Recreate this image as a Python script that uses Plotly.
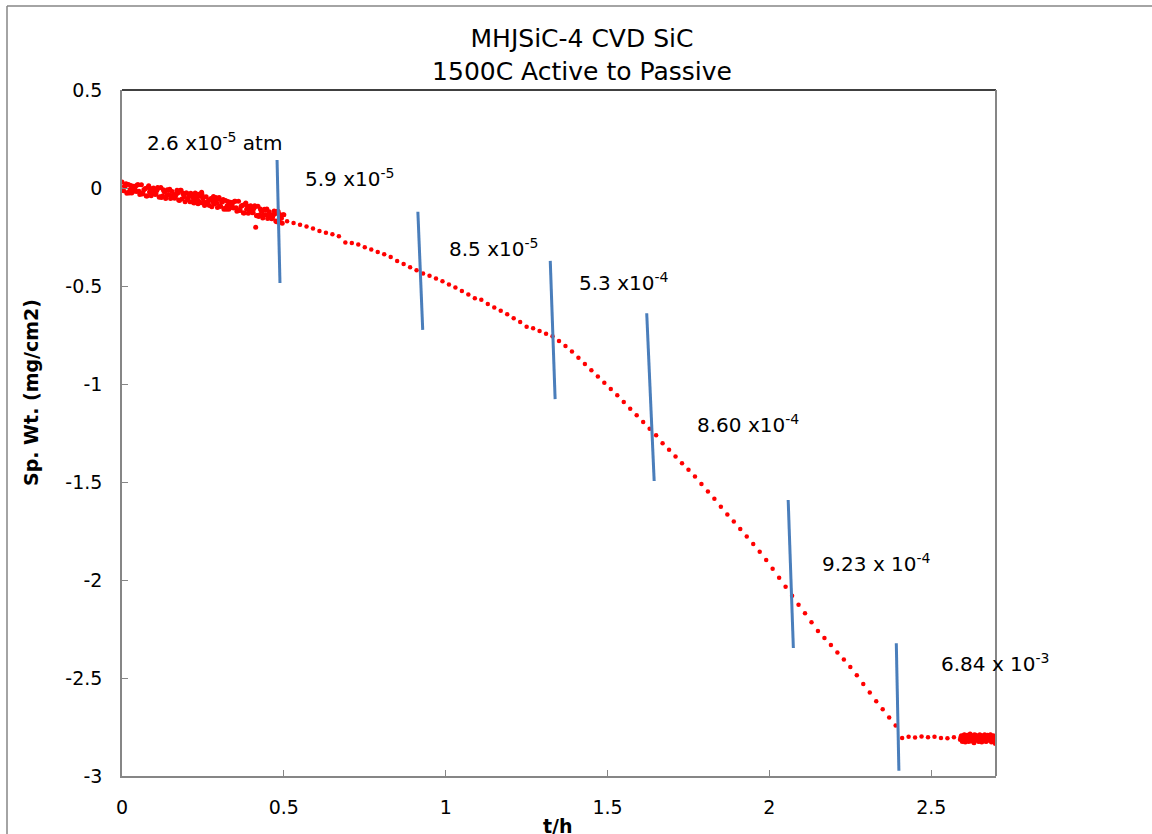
import plotly.graph_objects as go

# ---------------- data ----------------
# dense early segment (active oxidation, low pO2) - three interleaved passes
t_early_a = [0.000, 0.005, 0.010, 0.015, 0.020, 0.025, 0.030, 0.035, 0.040, 0.045,
             0.050, 0.055, 0.060, 0.065, 0.070, 0.075, 0.080, 0.085, 0.090, 0.095,
             0.100, 0.105, 0.110, 0.115, 0.120, 0.125, 0.130, 0.135, 0.140, 0.145,
             0.150, 0.155, 0.160, 0.165, 0.170, 0.175, 0.180, 0.185, 0.190, 0.195,
             0.200, 0.205, 0.210, 0.215, 0.220, 0.225, 0.230, 0.235, 0.240, 0.245,
             0.250, 0.255, 0.260, 0.265, 0.270, 0.275, 0.280, 0.285, 0.290, 0.295,
             0.300, 0.305, 0.310, 0.315, 0.320, 0.325, 0.330, 0.335, 0.340, 0.345,
             0.350, 0.355, 0.360, 0.365, 0.370, 0.375, 0.380, 0.385, 0.390, 0.395,
             0.400, 0.405, 0.410, 0.415, 0.420, 0.425, 0.430, 0.435, 0.440, 0.445,
             0.450, 0.455, 0.460, 0.465, 0.470, 0.475, 0.480, 0.485, 0.490, 0.495,
             0.500]
w_early_a = [0.030, -0.014, 0.009, -0.027, 0.018, -0.008, -0.026, 0.009, -0.006, -0.018,
             0.016, -0.033, 0.017, -0.028, -0.005, -0.041, 0.004, -0.021, -0.039, -0.004,
             -0.019, -0.031, 0.002, -0.047, 0.003, -0.041, -0.018, -0.054, -0.009, -0.034,
             -0.053, -0.018, -0.033, -0.045, -0.011, -0.061, -0.011, -0.056, -0.033, -0.070,
             -0.026, -0.051, -0.070, -0.035, -0.051, -0.063, -0.030, -0.080, -0.030, -0.075,
             -0.052, -0.089, -0.045, -0.070, -0.089, -0.054, -0.070, -0.082, -0.049, -0.099,
             -0.049, -0.094, -0.071, -0.108, -0.064, -0.089, -0.108, -0.073, -0.089, -0.102,
             -0.068, -0.118, -0.068, -0.113, -0.090, -0.127, -0.083, -0.109, -0.129, -0.095,
             -0.111, -0.124, -0.091, -0.141, -0.093, -0.138, -0.116, -0.153, -0.109, -0.136,
             -0.155, -0.121, -0.137, -0.150, -0.117, -0.168, -0.119, -0.164, -0.142, -0.180,
             -0.137]
t_early_b = [0.0025, 0.0125, 0.0225, 0.0325, 0.0425, 0.0525, 0.0625, 0.0725, 0.0825, 0.0925,
             0.1025, 0.1125, 0.1225, 0.1325, 0.1425, 0.1525, 0.1625, 0.1725, 0.1825, 0.1925,
             0.2025, 0.2125, 0.2225, 0.2325, 0.2425, 0.2525, 0.2625, 0.2725, 0.2825, 0.2925,
             0.3025, 0.3125, 0.3225, 0.3325, 0.3425, 0.3525, 0.3625, 0.3725, 0.3825, 0.3925,
             0.4025, 0.4125, 0.4225, 0.4325, 0.4425, 0.4525, 0.4625, 0.4725, 0.4825, 0.4925,
             0.246, 0.226, 0.413]
w_early_b = [-0.011, 0.022, -0.026, 0.001, 0.010, -0.017, -0.030, -0.002, 0.012, -0.020,
             -0.033, -0.001, -0.049, -0.021, -0.013, -0.039, -0.052, -0.025, -0.012, -0.045,
             -0.059, -0.027, -0.076, -0.049, -0.042, -0.069, -0.083, -0.057, -0.044, -0.077,
             -0.091, -0.059, -0.108, -0.081, -0.074, -0.101, -0.115, -0.088, -0.076, -0.110,
             -0.126, -0.095, -0.145, -0.120, -0.113, -0.142, -0.157, -0.132, -0.120, -0.154,
             -0.022, -0.026, -0.200]
t_early_c = [0.0075, 0.0175, 0.0275, 0.0375, 0.0475, 0.0575, 0.0675, 0.0775, 0.0875, 0.0975,
             0.1075, 0.1175, 0.1275, 0.1375, 0.1475, 0.1575, 0.1675, 0.1775, 0.1875, 0.1975,
             0.2075, 0.2175, 0.2275, 0.2375, 0.2475, 0.2575, 0.2675, 0.2775, 0.2875, 0.2975,
             0.3075, 0.3175, 0.3275, 0.3375, 0.3475, 0.3575, 0.3675, 0.3775, 0.3875, 0.3975,
             0.4075, 0.4175, 0.4275, 0.4375, 0.4475, 0.4575, 0.4675, 0.4775, 0.4875, 0.4975]
w_early_c = [0.009, -0.023, 0.013, -0.016, 0.017, -0.026, -0.009, -0.041, -0.003, 0.000,
             -0.013, -0.045, -0.009, -0.039, -0.006, -0.048, -0.032, -0.064, -0.027, -0.025,
             -0.039, -0.072, -0.037, -0.067, -0.035, -0.079, -0.063, -0.096, -0.059, -0.057,
             -0.071, -0.103, -0.069, -0.099, -0.067, -0.111, -0.095, -0.128, -0.092, -0.091,
             -0.106, -0.140, -0.107, -0.138, -0.107, -0.152, -0.138, -0.172, -0.135, -0.136]

# sparse middle segment
t_mid = [0.51, 0.53, 0.55, 0.57, 0.59, 0.61, 0.63, 0.65, 0.67, 0.69,
         0.71, 0.73, 0.75, 0.77, 0.79, 0.81, 0.83, 0.85, 0.87, 0.89,
         0.91, 0.93, 0.95, 0.97, 0.99, 1.01, 1.03, 1.05, 1.07, 1.09,
         1.11, 1.13, 1.15, 1.17, 1.19, 1.21, 1.23, 1.25, 1.27, 1.29,
         1.31, 1.33, 1.35, 1.37, 1.39, 1.41, 1.43, 1.45, 1.47, 1.49,
         1.51, 1.53, 1.55, 1.57, 1.59, 1.61, 1.63, 1.65, 1.67, 1.69,
         1.71, 1.73, 1.75, 1.77, 1.79, 1.81, 1.83, 1.85, 1.87, 1.89,
         1.91, 1.93, 1.95, 1.97, 1.99, 2.01, 2.03, 2.05, 2.07, 2.09,
         2.11, 2.13, 2.15, 2.17, 2.19, 2.21, 2.23, 2.25, 2.27, 2.29,
         2.31, 2.33, 2.35, 2.37, 2.39, 2.41, 2.43, 2.45, 2.47, 2.49,
         2.51, 2.53, 2.55, 2.57]
w_mid = [-0.170, -0.178, -0.188, -0.197, -0.207, -0.220, -0.228, -0.236, -0.246, -0.278,
         -0.281, -0.288, -0.302, -0.314, -0.326, -0.338, -0.352, -0.372, -0.388, -0.404,
         -0.420, -0.436, -0.448, -0.462, -0.476, -0.492, -0.508, -0.526, -0.544, -0.562,
         -0.570, -0.592, -0.610, -0.626, -0.644, -0.664, -0.684, -0.708, -0.716, -0.730,
         -0.744, -0.756, -0.780, -0.806, -0.834, -0.866, -0.898, -0.930, -0.962, -0.994,
         -1.026, -1.058, -1.092, -1.126, -1.160, -1.194, -1.228, -1.262, -1.302, -1.336,
         -1.370, -1.404, -1.438, -1.472, -1.510, -1.548, -1.586, -1.626, -1.666, -1.702,
         -1.740, -1.778, -1.816, -1.856, -1.898, -1.942, -1.988, -2.034, -2.080, -2.126,
         -2.170, -2.216, -2.260, -2.296, -2.332, -2.370, -2.406, -2.444, -2.486, -2.530,
         -2.574, -2.618, -2.660, -2.702, -2.742, -2.806, -2.800, -2.804, -2.798, -2.802,
         -2.800, -2.806, -2.808, -2.802]

# dense late segment (passive)
t_late = [2.590, 2.593, 2.596, 2.599, 2.602, 2.605, 2.608, 2.611, 2.614, 2.617,
          2.620, 2.623, 2.626, 2.629, 2.632, 2.635, 2.638, 2.641, 2.644, 2.647,
          2.650, 2.653, 2.656, 2.659, 2.662, 2.665, 2.668, 2.671, 2.674, 2.677,
          2.680, 2.683, 2.686, 2.689, 2.692, 2.695, 2.698, 2.700,
          2.5915, 2.5975, 2.6035, 2.6095, 2.6155, 2.6215, 2.6275, 2.6335, 2.6395, 2.6455,
          2.6515, 2.6575, 2.6635, 2.6695, 2.6755, 2.6815, 2.6875, 2.6935, 2.6985]
w_late = [-2.814, -2.795, -2.824, -2.805, -2.789, -2.827, -2.808, -2.792, -2.818, -2.802,
          -2.786, -2.821, -2.805, -2.795, -2.830, -2.811, -2.792, -2.814, -2.798, -2.824,
          -2.789, -2.808, -2.827, -2.795, -2.811, -2.789, -2.821, -2.802, -2.792, -2.818,
          -2.808, -2.789, -2.827, -2.805, -2.795, -2.818, -2.834, -2.802,
          -2.802, -2.818, -2.792, -2.811, -2.824, -2.798, -2.814, -2.789, -2.805, -2.821,
          -2.795, -2.814, -2.802, -2.824, -2.808, -2.792, -2.818, -2.798, -2.811]

# pO2 change markers (drawn segments): start/end t and weight
marker_t0 = [0.479, 0.914, 1.323, 1.621, 2.058, 2.392]
marker_w0 = [0.143, -0.121, -0.372, -0.639, -1.592, -2.323]
marker_t1 = [0.488, 0.929, 1.338, 1.644, 2.074, 2.400]
marker_w1 = [-0.485, -0.724, -1.077, -1.495, -2.347, -2.973]

# pO2 labels
label_text = ["2.6 x10<sup>-5</sup> atm", "5.9 x10<sup>-5</sup>", "8.5 x10<sup>-5</sup>",
              "5.3 x10<sup>-4</sup>", "8.60 x10<sup>-4</sup>", "9.23 x 10<sup>-4</sup>",
              "6.84 x 10<sup>-3</sup>"]
label_t = [0.071, 0.559, 1.004, 1.406, 1.771, 2.157, 2.525]
label_w = [0.235, 0.051, -0.306, -0.48, -1.204, -1.913, -2.423]

x_ticks = [0, 0.5, 1, 1.5, 2, 2.5]
y_ticks = [0.5, 0, -0.5, -1, -1.5, -2, -2.5, -3]

# ---------------- figure ----------------
FONT = "DejaVu Sans, Arial, sans-serif"
RED = "#FF0000"
BLUE = "#4A7EBB"
GREY = "#868686"

fig = go.Figure()
for tx, wy, ms in [(t_early_a, w_early_a, 5), (t_early_b, w_early_b, 5), (t_early_c, w_early_c, 5),
                   (t_mid, w_mid, 4.5), (t_late, w_late, 5)]:
    fig.add_trace(go.Scatter(x=tx, y=wy, mode="markers",
                             marker=dict(color=RED, size=ms, line=dict(width=0)),
                             showlegend=False, hoverinfo="x+y"))

for i in range(len(marker_t0)):
    fig.add_trace(go.Scatter(x=[marker_t0[i], marker_t1[i]], y=[marker_w0[i], marker_w1[i]],
                             mode="lines", line=dict(color=BLUE, width=3),
                             showlegend=False, hoverinfo="skip"))

for txt, tx, wy in zip(label_text, label_t, label_w):
    fig.add_annotation(x=tx, y=wy, xref="x", yref="y", text=txt, showarrow=False,
                       xanchor="left", yanchor="middle",
                       font=dict(family=FONT, size=20, color="#000000"))

# plot area limits in pixels
L, R, T, B = 122, 996, 90, 776
W, H = 1152, 834
def px2paper_x(px):
    return (px - L) / (R - L)
def px2paper_y(py):
    return (B - py) / (B - T)

shapes = [
    dict(type="line", xref="paper", yref="paper", x0=0, x1=1, y0=1, y1=1,
         line=dict(color="#000000", width=1.5)),
    dict(type="line", xref="paper", yref="paper", x0=1, x1=1, y0=0, y1=1,
         line=dict(color=GREY, width=2)),
    dict(type="line", xref="paper", yref="paper", x0=px2paper_x(7), x1=px2paper_x(1160),
         y0=px2paper_y(6), y1=px2paper_y(6), line=dict(color=GREY, width=1.5)),
    dict(type="line", xref="paper", yref="paper", x0=px2paper_x(7), x1=px2paper_x(7),
         y0=px2paper_y(6), y1=px2paper_y(840), line=dict(color=GREY, width=1.5)),
]

fig.update_layout(
    width=W, height=H,
    margin=dict(l=L, r=W - R, t=T, b=H - B, pad=0),
    paper_bgcolor="white", plot_bgcolor="white",
    font=dict(family=FONT, color="#000000"),
    title=dict(text="MHJSiC-4 CVD SiC<br>1500C Active to Passive",
               x=582 / W, xref="container", xanchor="center",
               y=1 - 47 / H, yanchor="middle",
               font=dict(family=FONT, size=25, color="#000000")),
    shapes=shapes,
    showlegend=False,
)
fig.update_xaxes(range=[0, 2.7], tickvals=x_ticks, ticktext=[f"{v:g}" for v in x_ticks],
                 showgrid=False, zeroline=False, showline=True, linecolor=GREY, linewidth=1.5,
                 ticks="inside", ticklen=6, tickcolor=GREY, tickwidth=1,
                 tickfont=dict(family=FONT, size=19, color="#000000"),
                 ticklabelstandoff=13)
fig.update_yaxes(range=[-3, 0.5], tickvals=y_ticks, ticktext=[f"{v:g}" for v in y_ticks],
                 showgrid=False, zeroline=False, showline=True, linecolor=GREY, linewidth=1.5,
                 ticks="inside", ticklen=6, tickcolor=GREY, tickwidth=1,
                 tickfont=dict(family=FONT, size=19, color="#000000"),
                 ticklabelstandoff=14)

fig.add_annotation(x=px2paper_x(31), y=px2paper_y(393), xref="paper", yref="paper",
                   text="<b>Sp. Wt. (mg/cm2)</b>", textangle=-90, showarrow=False,
                   xanchor="center", yanchor="middle",
                   font=dict(family=FONT, size=19, color="#000000"))
fig.add_annotation(x=px2paper_x(558), y=px2paper_y(826), xref="paper", yref="paper",
                   text="<b>t/h</b>", showarrow=False, xanchor="center", yanchor="middle",
                   font=dict(family=FONT, size=19, color="#000000"))

fig.write_html("out.html", config={"displayModeBar": False},
               post_script="document.body.style.margin='0px';document.body.style.overflow='hidden';")
